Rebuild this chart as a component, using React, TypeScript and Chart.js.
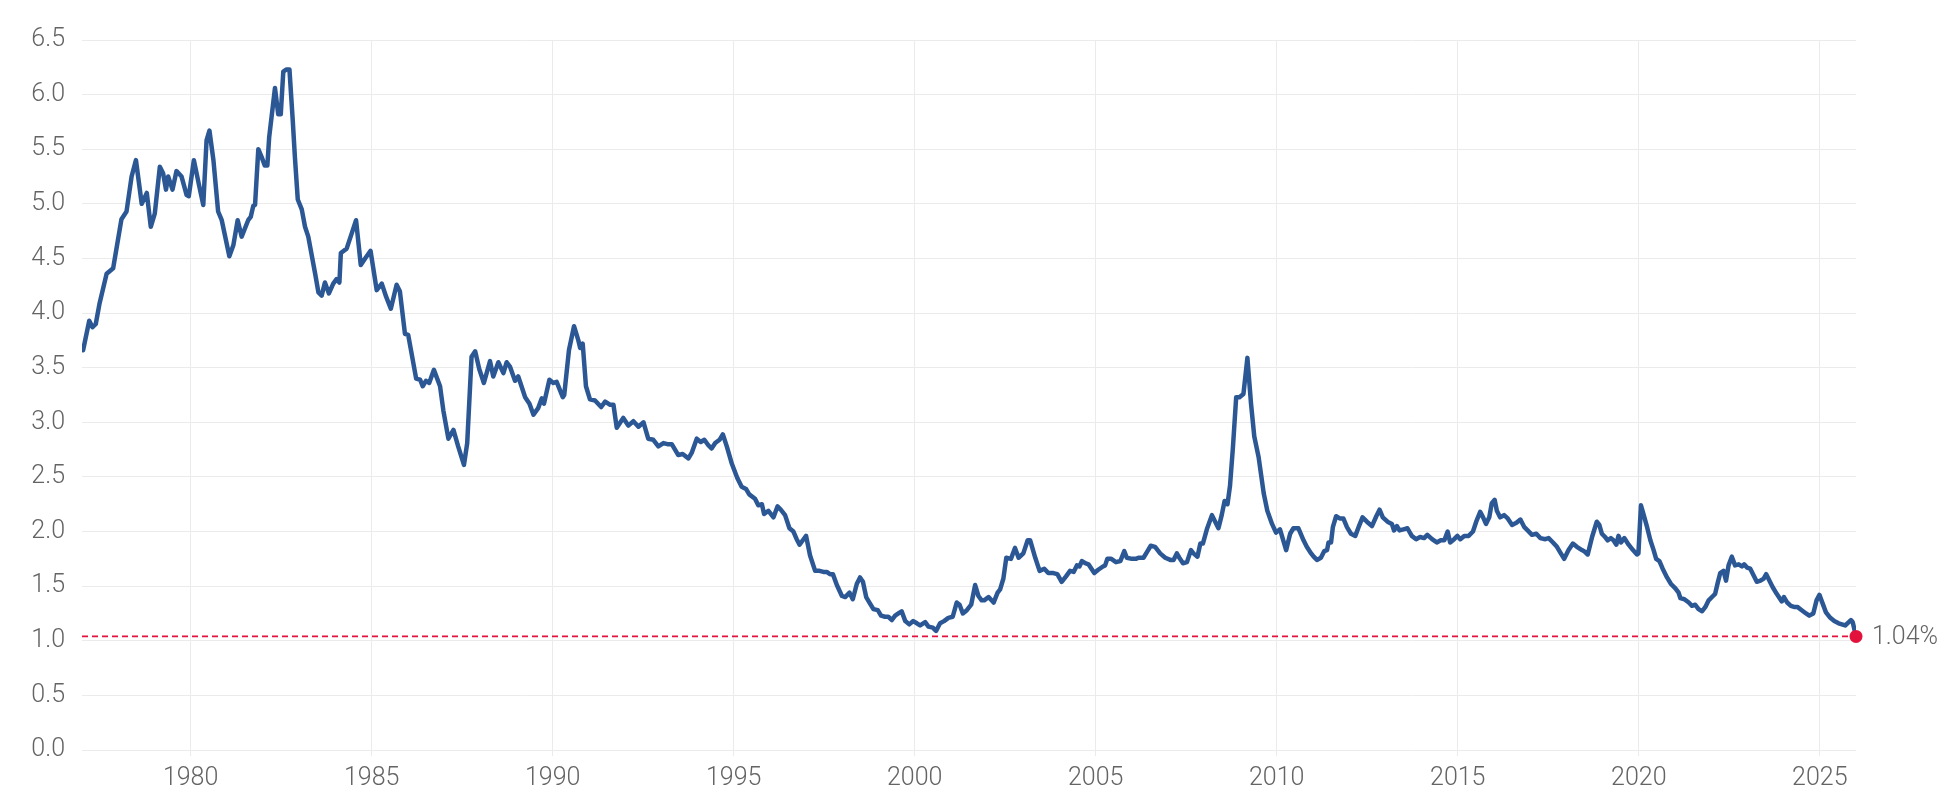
import React, { useEffect, useRef } from 'react';
import { Chart, registerables } from 'chart.js';

Chart.register(...registerables);

// decimal years
const obsYears = [
  1977.03, 1977.2, 1977.29, 1977.38, 1977.48, 1977.68, 1977.86, 1978.09, 1978.23, 1978.37,
  1978.49, 1978.65, 1978.79, 1978.9, 1979.01, 1979.15, 1979.24, 1979.32, 1979.38, 1979.5,
  1979.61, 1979.75, 1979.89, 1979.95, 1980.09, 1980.24, 1980.35, 1980.44, 1980.52, 1980.63,
  1980.76, 1980.86, 1981.07, 1981.18, 1981.3, 1981.41, 1981.59, 1981.66, 1981.73, 1981.78,
  1981.87, 1981.96, 1982.05, 1982.12, 1982.17, 1982.33, 1982.42, 1982.49, 1982.56, 1982.65,
  1982.73, 1982.82, 1982.88, 1982.96, 1983.07, 1983.16, 1983.25, 1983.44, 1983.53, 1983.62,
  1983.71, 1983.82, 1983.94, 1984.03, 1984.11, 1984.15, 1984.31, 1984.45, 1984.57, 1984.7,
  1984.82, 1984.97, 1985.14, 1985.28, 1985.4, 1985.53, 1985.69, 1985.78, 1985.92, 1986.01,
  1986.23, 1986.34, 1986.41, 1986.5, 1986.59, 1986.72, 1986.89, 1986.98, 1987.12, 1987.26,
  1987.39, 1987.55, 1987.64, 1987.76, 1987.86, 1987.97, 1988.1, 1988.27, 1988.36, 1988.5,
  1988.64, 1988.73, 1988.82, 1988.96, 1989.05, 1989.24, 1989.36, 1989.47, 1989.6, 1989.7,
  1989.76, 1989.91, 1990.02, 1990.11, 1990.28, 1990.32, 1990.45, 1990.59, 1990.71, 1990.76,
  1990.83, 1990.92, 1991.03, 1991.17, 1991.34, 1991.45, 1991.59, 1991.68, 1991.77, 1991.95,
  1992.09, 1992.23, 1992.37, 1992.51, 1992.64, 1992.78, 1992.92, 1993.06, 1993.17, 1993.29,
  1993.38, 1993.47, 1993.59, 1993.75, 1993.84, 1993.98, 1994.09, 1994.19, 1994.3, 1994.39,
  1994.49, 1994.61, 1994.7, 1994.81, 1994.95, 1995.1, 1995.22, 1995.34, 1995.43, 1995.59,
  1995.68, 1995.78, 1995.84, 1995.96, 1996.1, 1996.21, 1996.3, 1996.42, 1996.54, 1996.65,
  1996.74, 1996.82, 1996.91, 1997.0, 1997.11, 1997.25, 1997.37, 1997.48, 1997.57, 1997.66,
  1997.74, 1997.85, 1997.99, 1998.08, 1998.2, 1998.29, 1998.4, 1998.49, 1998.57, 1998.66,
  1998.75, 1998.86, 1998.98, 1999.07, 1999.18, 1999.27, 1999.37, 1999.46, 1999.55, 1999.64,
  1999.74, 1999.85, 1999.96, 2000.06, 2000.15, 2000.29, 2000.38, 2000.5, 2000.59, 2000.7,
  2000.81, 2000.93, 2001.05, 2001.16, 2001.24, 2001.33, 2001.44, 2001.56, 2001.67, 2001.76,
  2001.85, 2001.92, 2002.04, 2002.18, 2002.29, 2002.36, 2002.45, 2002.53, 2002.66, 2002.77,
  2002.87, 2003.0, 2003.12, 2003.19, 2003.33, 2003.45, 2003.58, 2003.69, 2003.83, 2003.94,
  2004.06, 2004.18, 2004.29, 2004.39, 2004.48, 2004.55, 2004.62, 2004.71, 2004.8, 2004.96,
  2005.07, 2005.2, 2005.26, 2005.32, 2005.43, 2005.56, 2005.68, 2005.79, 2005.86, 2006.0,
  2006.11, 2006.18, 2006.32, 2006.41, 2006.52, 2006.64, 2006.78, 2006.92, 2007.06, 2007.15,
  2007.24, 2007.31, 2007.41, 2007.52, 2007.63, 2007.7, 2007.81, 2007.89, 2007.96, 2008.07,
  2008.21, 2008.3, 2008.39, 2008.48, 2008.56, 2008.64, 2008.71, 2008.79, 2008.88, 2008.97,
  2009.08, 2009.19, 2009.29, 2009.38, 2009.5, 2009.64, 2009.74, 2009.87, 2009.98, 2010.09,
  2010.26, 2010.37, 2010.46, 2010.6, 2010.74, 2010.83, 2010.95, 2011.02, 2011.11, 2011.22,
  2011.31, 2011.39, 2011.43, 2011.5, 2011.55, 2011.64, 2011.74, 2011.84, 2011.94, 2012.05,
  2012.17, 2012.26, 2012.37, 2012.49, 2012.63, 2012.75, 2012.84, 2012.93, 2013.06, 2013.18,
  2013.24, 2013.32, 2013.39, 2013.5, 2013.61, 2013.73, 2013.85, 2013.96, 2014.07, 2014.16,
  2014.29, 2014.42, 2014.53, 2014.63, 2014.72, 2014.79, 2014.9, 2014.99, 2015.07, 2015.18,
  2015.3, 2015.42, 2015.51, 2015.62, 2015.7, 2015.78, 2015.87, 2015.94, 2016.02, 2016.08,
  2016.17, 2016.28, 2016.38, 2016.5, 2016.62, 2016.73, 2016.84, 2016.93, 2017.05, 2017.17,
  2017.28, 2017.42, 2017.51, 2017.63, 2017.74, 2017.83, 2017.94, 2018.06, 2018.18, 2018.29,
  2018.43, 2018.49, 2018.59, 2018.71, 2018.84, 2018.91, 2018.98, 2019.07, 2019.14, 2019.23,
  2019.3, 2019.38, 2019.44, 2019.51, 2019.6, 2019.72, 2019.84, 2019.95, 2019.99, 2020.06,
  2020.13, 2020.23, 2020.32, 2020.41, 2020.48, 2020.57, 2020.66, 2020.78, 2020.89, 2021.01,
  2021.1, 2021.15, 2021.26, 2021.38, 2021.47, 2021.56, 2021.65, 2021.75, 2021.84, 2021.93,
  2022.05, 2022.11, 2022.18, 2022.25, 2022.34, 2022.41, 2022.48, 2022.57, 2022.66, 2022.76,
  2022.85, 2022.91, 2022.99, 2023.08, 2023.17, 2023.26, 2023.36, 2023.45, 2023.52, 2023.61,
  2023.7, 2023.81, 2023.95, 2024.01, 2024.1, 2024.2, 2024.29, 2024.38, 2024.5, 2024.62,
  2024.71, 2024.82, 2024.91, 2024.99, 2025.08, 2025.17, 2025.29, 2025.4, 2025.52, 2025.61,
  2025.7, 2025.8, 2025.86, 2025.91, 2026.0,
];

const obsValues = [
  3.66, 3.93, 3.87, 3.9, 4.08, 4.36, 4.41, 4.86, 4.93, 5.25,
  5.4, 5.0, 5.1, 4.79, 4.91, 5.34, 5.28, 5.13, 5.25, 5.13,
  5.3, 5.25, 5.08, 5.07, 5.4, 5.16, 4.99, 5.58, 5.67, 5.4,
  4.93, 4.85, 4.52, 4.62, 4.85, 4.7, 4.85, 4.88, 4.98, 4.99,
  5.5, 5.43, 5.35, 5.35, 5.61, 6.06, 5.82, 5.82, 6.21, 6.23,
  6.23, 5.77, 5.43, 5.04, 4.95, 4.79, 4.7, 4.36, 4.19, 4.16,
  4.28, 4.18, 4.27, 4.31, 4.28, 4.55, 4.59, 4.73, 4.85, 4.44,
  4.5, 4.57, 4.21, 4.27, 4.15, 4.04, 4.26, 4.2, 3.81, 3.8,
  3.4, 3.39, 3.33, 3.38, 3.36, 3.48, 3.33, 3.11, 2.85, 2.93,
  2.78, 2.61, 2.81, 3.6, 3.65, 3.49, 3.36, 3.56, 3.42, 3.55,
  3.45, 3.55, 3.51, 3.38, 3.42, 3.23, 3.17, 3.07, 3.13, 3.22,
  3.17, 3.39, 3.36, 3.37, 3.23, 3.25, 3.66, 3.88, 3.75, 3.68,
  3.72, 3.33, 3.21, 3.2, 3.14, 3.19, 3.16, 3.16, 2.95, 3.04,
  2.97, 3.01, 2.96, 3.0, 2.85, 2.84, 2.78, 2.81, 2.8, 2.8,
  2.75, 2.7, 2.71, 2.67, 2.72, 2.85, 2.82, 2.84, 2.79, 2.76,
  2.81, 2.84, 2.89, 2.78, 2.62, 2.49, 2.41, 2.39, 2.34, 2.3,
  2.24, 2.25, 2.16, 2.19, 2.13, 2.23, 2.2, 2.15, 2.03, 2.0,
  1.93, 1.88, 1.92, 1.96, 1.78, 1.64, 1.64, 1.63, 1.63, 1.61,
  1.61, 1.51, 1.41, 1.4, 1.44, 1.38, 1.52, 1.58, 1.54, 1.4,
  1.35, 1.29, 1.28, 1.23, 1.22, 1.22, 1.19, 1.23, 1.25, 1.27,
  1.18, 1.15, 1.18, 1.16, 1.14, 1.17, 1.13, 1.12, 1.09, 1.16,
  1.18, 1.21, 1.22, 1.35, 1.33, 1.25, 1.28, 1.33, 1.51, 1.41,
  1.37, 1.37, 1.4, 1.35, 1.44, 1.47, 1.57, 1.76, 1.75, 1.85,
  1.76, 1.8, 1.92, 1.92, 1.76, 1.64, 1.66, 1.62, 1.62, 1.61,
  1.54, 1.59, 1.64, 1.63, 1.69, 1.68, 1.73, 1.71, 1.7, 1.62,
  1.65, 1.68, 1.69, 1.75, 1.75, 1.72, 1.73, 1.82, 1.76, 1.75,
  1.75, 1.76, 1.76, 1.81, 1.87, 1.86, 1.8, 1.76, 1.74, 1.74,
  1.8, 1.76, 1.71, 1.72, 1.83, 1.8, 1.77, 1.89, 1.89, 2.02,
  2.15, 2.09, 2.03, 2.15, 2.28, 2.25, 2.42, 2.77, 3.23, 3.23,
  3.26, 3.59, 3.17, 2.87, 2.68, 2.35, 2.19, 2.07, 1.99, 2.02,
  1.83, 1.98, 2.03, 2.03, 1.92, 1.86, 1.8, 1.77, 1.74, 1.76,
  1.82, 1.83, 1.9, 1.9, 2.04, 2.14, 2.12, 2.12, 2.04, 1.98,
  1.96, 2.04, 2.13, 2.09, 2.05, 2.14, 2.2, 2.13, 2.09, 2.07,
  2.01, 2.05, 2.01, 2.02, 2.03, 1.96, 1.93, 1.95, 1.94, 1.97,
  1.93, 1.9, 1.92, 1.92, 2.0, 1.9, 1.93, 1.96, 1.93, 1.96,
  1.96, 2.0, 2.09, 2.18, 2.13, 2.07, 2.13, 2.26, 2.29, 2.19,
  2.13, 2.15, 2.12, 2.06, 2.08, 2.11, 2.04, 2.01, 1.97, 1.98,
  1.94, 1.93, 1.94, 1.9, 1.86, 1.81, 1.75, 1.83, 1.89, 1.86,
  1.83, 1.82, 1.79, 1.95, 2.09, 2.06, 1.98, 1.95, 1.92, 1.94,
  1.92, 1.88, 1.96, 1.9, 1.94, 1.88, 1.83, 1.79, 1.8, 2.24,
  2.16, 2.04, 1.92, 1.83, 1.75, 1.73, 1.66, 1.58, 1.52, 1.48,
  1.44, 1.39, 1.38, 1.35, 1.32, 1.33, 1.29, 1.27, 1.31, 1.37,
  1.41, 1.43, 1.53, 1.62, 1.64, 1.55, 1.69, 1.77, 1.69, 1.7,
  1.68, 1.7, 1.67, 1.66, 1.6, 1.54, 1.55, 1.57, 1.61, 1.55,
  1.49, 1.43, 1.36, 1.4, 1.35, 1.32, 1.31, 1.31, 1.28, 1.25,
  1.23, 1.25, 1.37, 1.42, 1.34, 1.26, 1.21, 1.18, 1.16, 1.15,
  1.14, 1.17, 1.19, 1.17, 1.04,
];

const yearTicks = [1980, 1985, 1990, 1995, 2000, 2005, 2010, 2015, 2020, 2025];
const xMin = 1977;
const xMax = 2026;

const lastYear = obsYears[obsYears.length - 1];
const lastValue = obsValues[obsValues.length - 1];

const TEXT = '#646464';
const GRID = '#ebebeb';
const LINE = '#2c5795';
const RED = '#e2123c';
const FONT_FAMILY = 'Roboto, "Noto Sans", sans-serif';

const lastLabelPlugin = {
  id: 'lastLabel',
  afterDatasetsDraw(chart: Chart) {
    const meta = chart.getDatasetMeta(2);
    const pt = meta.data[0];
    if (!pt) return;
    const ctx = chart.ctx;
    ctx.save();
    ctx.fillStyle = TEXT;
    ctx.font = `300 25px ${FONT_FAMILY}`;
    ctx.textAlign = 'left';
    ctx.textBaseline = 'middle';
    ctx.fillText(`${lastValue.toFixed(2)}%`, pt.x + 16, pt.y + 1);
    ctx.restore();
  },
};

const App: React.FC = () => {
  const canvasRef = useRef<HTMLCanvasElement>(null);
  const chartRef = useRef<Chart | null>(null);

  useEffect(() => {
    document.body.style.margin = '0';
    if (!canvasRef.current) return;
    const ctx = canvasRef.current.getContext('2d');
    if (!ctx) return;
    if (chartRef.current) chartRef.current.destroy();

    const font = { family: FONT_FAMILY, size: 25, weight: '300' as const };

    chartRef.current = new Chart(ctx, {
      type: 'line',
      data: {
        datasets: [
          {
            data: [
              { x: xMin, y: lastValue },
              { x: lastYear, y: lastValue },
            ],
            borderColor: RED,
            borderWidth: 1.6,
            borderDash: [6, 4],
            pointRadius: 0,
            order: 3,
          },
          {
            data: obsYears.map((x, i) => ({ x, y: obsValues[i] })),
            borderColor: LINE,
            borderWidth: 4.5,
            borderJoinStyle: 'round',
            borderCapStyle: 'round',
            pointRadius: 0,
            tension: 0,
            order: 2,
          },
          {
            data: [{ x: lastYear, y: lastValue }],
            backgroundColor: RED,
            borderColor: RED,
            pointRadius: 6.5,
            pointBorderWidth: 0,
            showLine: false,
            clip: false,
            order: 1,
          },
        ],
      },
      options: {
        animation: false,
        responsive: true,
        maintainAspectRatio: false,
        events: [],
        layout: { padding: { top: 40, right: 95, bottom: 0, left: 0 } },
        plugins: { legend: { display: false }, tooltip: { enabled: false } },
        scales: {
          x: {
            type: 'linear',
            min: xMin,
            max: xMax,
            afterBuildTicks: (scale: any) => {
              scale.ticks = yearTicks.map((v) => ({ value: v }));
            },
            afterFit: (scale: any) => {
              scale.height = 56;
            },
            grid: { color: GRID, lineWidth: 1, tickLength: 6, drawTicks: true },
            border: { display: false },
            ticks: {
              color: TEXT,
              font,
              padding: 8,
              maxRotation: 0,
              callback: (v: any) => String(v),
            },
          },
          y: {
            min: 0,
            max: 6.5,
            afterFit: (scale: any) => {
              scale.width = 82;
            },
            grid: { color: GRID, lineWidth: 1, drawTicks: false },
            border: { display: false },
            ticks: {
              stepSize: 0.5,
              color: TEXT,
              font,
              padding: 17,
              callback: (v: any) => Number(v).toFixed(1),
            },
          },
        },
      },
      plugins: [lastLabelPlugin],
    });

    return () => {
      if (chartRef.current) {
        chartRef.current.destroy();
        chartRef.current = null;
      }
    };
  }, []);

  return (
    <div style={{ position: 'fixed', left: 0, top: 0, width: 1951, height: 806, background: '#fff' }}>
      <canvas ref={canvasRef}></canvas>
    </div>
  );
};

export default App;
